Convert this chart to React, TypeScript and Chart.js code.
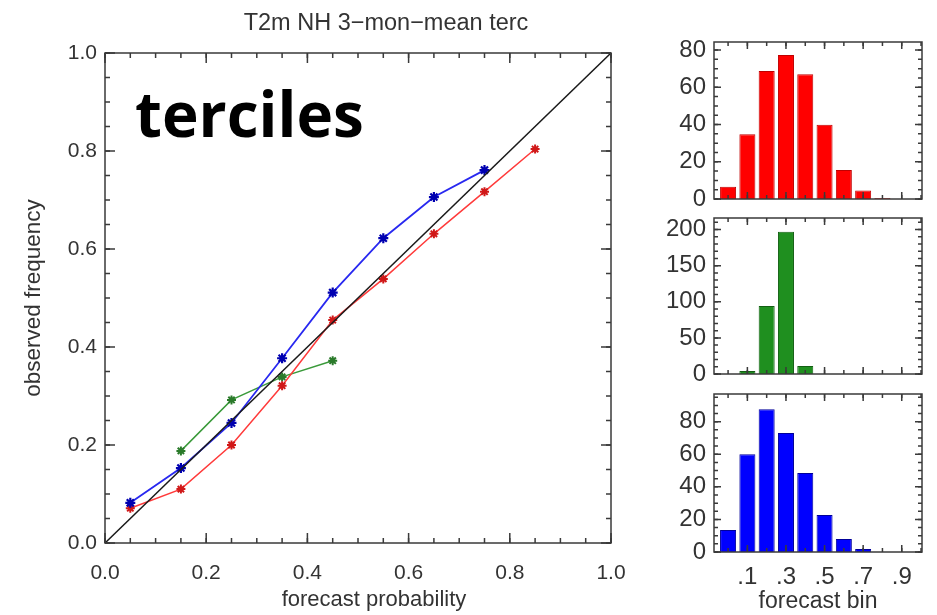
import React, { useEffect, useRef } from "react";
import { Chart, registerables } from "chart.js";

Chart.register(...registerables);

const FONT = '"Liberation Sans", Arial, Helvetica, sans-serif';
const TEXT = "#333333";

// ---- main reliability diagram ----
const forecastProb = [0.05, 0.15, 0.25, 0.35, 0.45, 0.55, 0.65, 0.75, 0.85];
const blueObs = [0.082, 0.153, 0.245, 0.377, 0.511, 0.622, 0.706, 0.761];
const redObs = [0.071, 0.11, 0.2, 0.321, 0.455, 0.539, 0.631, 0.717, 0.804];
const greenObs = [null, 0.188, 0.292, 0.339, 0.372];
const diagonalEnds = [0, 1];
const mainTitle = "T2m NH 3\u2212mon\u2212mean terc";
const xAxisTitle = "forecast probability";
const yAxisTitle = "observed frequency";
const overlayLabel = "terciles";

// ---- histograms ----
const binIndex = [0, 1, 2, 3, 4, 5, 6, 7, 8, 9];
const redCounts = [6.6, 34.7, 68.7, 77.3, 67, 39.9, 15.6, 4.5, 0.5, 0];
const greenCounts = [0, 4, 94, 197, 11, 0, 0, 0, 0, 0];
const blueCounts = [13.5, 60, 87.7, 73, 48.5, 22.7, 8, 1.8, 0, 0];
const binTickValues = [1, 3, 5, 7, 9];
const binTickLabels = [".1", ".3", ".5", ".7", ".9"];
const histXTitle = "forecast bin";

function stepRange(min: number, max: number, step: number) {
  const out: number[] = [];
  const a = Math.ceil(min / step - 1e-9);
  const b = Math.floor(max / step + 1e-9);
  for (let i = a; i <= b; i++) out.push(i * step);
  return out;
}

const idlFrame = {
  id: "idlFrame",
  afterDatasetsDraw(chart: any, _args: any, opts: any) {
    const { ctx, chartArea } = chart;
    const { left, right, top, bottom } = chartArea;
    const xs = chart.scales.x;
    const ys = chart.scales.y;
    ctx.save();
    ctx.strokeStyle = opts.color || "#333";
    ctx.lineWidth = opts.lineWidth || 1.5;
    const drawX = (v: number, len: number) => {
      const px = xs.getPixelForValue(v);
      if (px < left - 0.5 || px > right + 0.5) return;
      ctx.beginPath();
      ctx.moveTo(px, bottom);
      ctx.lineTo(px, bottom - len);
      ctx.moveTo(px, top);
      ctx.lineTo(px, top + len);
      ctx.stroke();
    };
    const drawY = (v: number, len: number) => {
      const py = ys.getPixelForValue(v);
      if (py < top - 0.5 || py > bottom + 0.5) return;
      ctx.beginPath();
      ctx.moveTo(left, py);
      ctx.lineTo(left + len, py);
      ctx.moveTo(right, py);
      ctx.lineTo(right - len, py);
      ctx.stroke();
    };
    const ml = opts.majorLen || 9;
    const nl = opts.minorLen || 5;
    stepRange(xs.min, xs.max, opts.xMinorStep).forEach((v: number) => drawX(v, nl));
    (opts.xMajor || []).forEach((v: number) => drawX(v, ml));
    stepRange(ys.min, ys.max, opts.yMinorStep).forEach((v: number) => drawY(v, nl));
    (opts.yMajor || []).forEach((v: number) => drawY(v, ml));
    ctx.strokeRect(left, top, right - left, bottom - top);
    ctx.restore();
  },
};

function useChart(ref: React.RefObject<HTMLCanvasElement | null>, makeConfig: () => any) {
  useEffect(() => {
    if (!ref.current) return;
    const chart = new Chart(ref.current, makeConfig());
    return () => chart.destroy();
  }, []);
}

const pts = (ys: (number | null)[]) =>
  ys
    .map((y, i) => ({ x: forecastProb[i], y }))
    .filter((p) => p.y !== null) as { x: number; y: number }[];

const fixW = (w: number) => (s: any) => {
  s.width = w;
  s.paddingTop = 0;
  s.paddingBottom = 0;
};
const fixH = (h: number) => (s: any) => {
  s.height = h;
  s.paddingLeft = 0;
  s.paddingRight = 0;
};

function MainChart() {
  const ref = useRef<HTMLCanvasElement | null>(null);
  useChart(ref, () => ({
    type: "scatter",
    data: {
      datasets: [
        {
          data: diagonalEnds.map((v) => ({ x: v, y: v })),
          showLine: true,
          borderColor: "#1a1a1a",
          borderWidth: 1.5,
          pointRadius: 0,
        },
        {
          data: pts(blueObs),
          showLine: true,
          borderColor: "#2828f0",
          borderWidth: 1.8,
          pointStyle: "star",
          pointRadius: 5,
          pointBorderWidth: 2.2,
          pointBorderColor: "#0000b0",
          pointBackgroundColor: "#0000b0",
        },
        {
          data: pts(redObs),
          showLine: true,
          borderColor: "#ff3a3a",
          borderWidth: 1.5,
          pointStyle: "star",
          pointRadius: 4.5,
          pointBorderWidth: 2,
          pointBorderColor: "#d01818",
          pointBackgroundColor: "#d01818",
        },
        {
          data: pts(greenObs),
          showLine: true,
          borderColor: "#3a9a3a",
          borderWidth: 1.5,
          pointStyle: "star",
          pointRadius: 4.5,
          pointBorderWidth: 2,
          pointBorderColor: "#2a7a2a",
          pointBackgroundColor: "#2a7a2a",
        },
      ],
    },
    options: {
      responsive: false,
      animation: false,
      layout: { padding: { top: 53, right: 29, bottom: 0, left: 0 } },
      plugins: {
        legend: { display: false },
        tooltip: { enabled: false },
        title: { display: false },
        idlFrame: {
          color: "#3a3a3a",
          lineWidth: 1.5,
          xMajor: [0, 0.2, 0.4, 0.6, 0.8, 1],
          yMajor: [0, 0.2, 0.4, 0.6, 0.8, 1],
          xMinorStep: 0.05,
          yMinorStep: 0.05,
          majorLen: 10,
          minorLen: 5,
        },
      },
      scales: {
        x: {
          type: "linear",
          min: 0,
          max: 1,
          grid: { display: false },
          border: { display: false },
          ticks: {
            stepSize: 0.2,
            color: TEXT,
            font: { family: FONT, size: 21 },
            padding: 10,
            maxRotation: 0,
            callback: (v: any) => Number(v).toFixed(1),
          },
          title: { display: false },
          afterFit: fixH(72),
        },
        y: {
          type: "linear",
          min: 0,
          max: 1,
          grid: { display: false },
          border: { display: false },
          ticks: {
            stepSize: 0.2,
            color: TEXT,
            font: { family: FONT, size: 21 },
            padding: 0,
            callback: (v: any) => Number(v).toFixed(1),
          },
          title: {
            display: true,
            text: yAxisTitle,
            color: TEXT,
            font: { family: FONT, size: 22.5 },
            padding: { top: 20, bottom: 0 },
          },
          afterFit: fixW(105),
        },
      },
    },
    plugins: [idlFrame],
  }));
  return (
    <canvas
      ref={ref}
      width={640}
      height={615}
      style={{ position: "absolute", left: 0, top: 0, width: 640, height: 615 }}
    />
  );
}

type HistProps = {
  counts: number[];
  fill: string;
  edge: string;
  top: number;
  height: number;
  padTop: number;
  xHeight: number;
  yMax: number;
  yStep: number;
  yMinor: number;
  showX: boolean;
};

function HistChart(p: HistProps) {
  const ref = useRef<HTMLCanvasElement | null>(null);
  useChart(ref, () => ({
    type: "bar",
    data: {
      datasets: [
        {
          data: binIndex.map((b, i) => ({ x: b, y: p.counts[i] })),
          backgroundColor: p.fill,
          borderColor: p.edge,
          borderWidth: 1,
          barPercentage: 0.83,
          categoryPercentage: 1,
        },
      ],
    },
    options: {
      responsive: false,
      animation: false,
      layout: { padding: { top: p.padTop, right: 15, bottom: 0, left: 0 } },
      plugins: {
        legend: { display: false },
        tooltip: { enabled: false },
        idlFrame: {
          color: "#3a3a3a",
          lineWidth: 1.5,
          xMajor: binTickValues,
          yMajor: stepRange(0, p.yMax, p.yStep),
          xMinorStep: 1,
          yMinorStep: p.yMinor,
          majorLen: 7,
          minorLen: 4,
        },
      },
      scales: {
        x: {
          type: "linear",
          min: -0.73,
          max: 10.05,
          offset: false,
          grid: { display: false },
          border: { display: false },
          afterBuildTicks: (s: any) => {
            s.ticks = binTickValues.map((v) => ({ value: v }));
          },
          ticks: {
            display: p.showX,
            color: TEXT,
            font: { family: FONT, size: 24 },
            padding: 3,
            maxRotation: 0,
            autoSkip: false,
            callback: (v: any) => {
              const k = binTickValues.indexOf(Number(v));
              return k >= 0 ? binTickLabels[k] : "";
            },
          },
          title: {
            display: p.showX,
            text: histXTitle,
            color: TEXT,
            font: { family: FONT, size: 23 },
            padding: { top: 0, bottom: 0 },
          },
          afterFit: fixH(p.xHeight),
        },
        y: {
          type: "linear",
          min: 0,
          max: p.yMax,
          grid: { display: false },
          border: { display: false },
          ticks: {
            stepSize: p.yStep,
            includeBounds: false,
            color: TEXT,
            font: { family: FONT, size: 24 },
            padding: 0,
          },
          afterFit: fixW(74),
        },
      },
    },
    plugins: [idlFrame],
  }));
  return (
    <canvas
      ref={ref}
      width={297}
      height={p.height}
      style={{ position: "absolute", left: 640, top: p.top, width: 297, height: p.height }}
    />
  );
}

export default function App() {
  return (
    <div
      style={{
        position: "absolute",
        left: 0,
        top: 0,
        width: 937,
        height: 615,
        background: "#ffffff",
        overflow: "hidden",
      }}
    >
      <MainChart />
      <HistChart
        counts={redCounts}
        fill="#ff0000"
        edge="#c00000"
        top={30}
        height={180}
        padTop={12}
        xHeight={11}
        yMax={84.3}
        yStep={20}
        yMinor={5}
        showX={false}
      />
      <HistChart
        counts={greenCounts}
        fill="#1f8f1f"
        edge="#135f13"
        top={205}
        height={180}
        padTop={13}
        xHeight={11}
        yMax={216}
        yStep={50}
        yMinor={10}
        showX={false}
      />
      <HistChart
        counts={blueCounts}
        fill="#0000ff"
        edge="#00009a"
        top={382}
        height={233}
        padTop={12}
        xHeight={63}
        yMax={97}
        yStep={20}
        yMinor={5}
        showX={true}
      />
      <div
        style={{
          position: "absolute",
          left: 0,
          top: 8,
          width: 772,
          textAlign: "center",
          fontFamily: FONT,
          fontSize: 23.5,
          lineHeight: "28px",
          color: TEXT,
          whiteSpace: "nowrap",
        }}
      >
        {mainTitle}
      </div>
      <div
        style={{
          position: "absolute",
          left: 0,
          top: 586,
          width: 748,
          textAlign: "center",
          fontFamily: FONT,
          fontSize: 22,
          lineHeight: "26px",
          color: TEXT,
          whiteSpace: "nowrap",
        }}
      >
        {xAxisTitle}
      </div>
      <div
        style={{
          position: "absolute",
          left: 135,
          top: 82,
          fontFamily: '"Open Sans", sans-serif',
          fontWeight: 700,
          fontSize: 62,
          lineHeight: 1,
          color: "#000000",
          whiteSpace: "nowrap",
        }}
      >
        {overlayLabel}
      </div>
    </div>
  );
}
